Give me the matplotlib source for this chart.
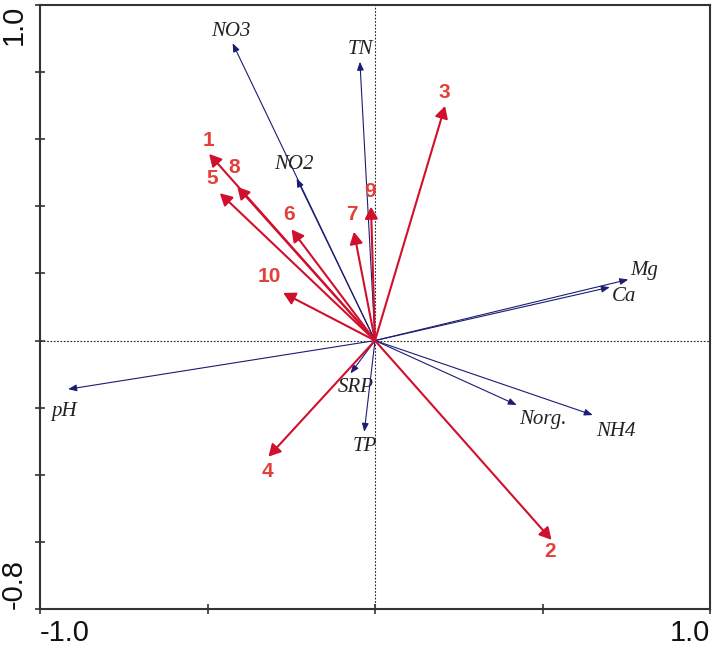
import matplotlib
matplotlib.use('Agg')
import matplotlib.pyplot as plt
import numpy as np

# environmental variables (blue arrows)
envNames = ['NO3', 'TN', 'NO2', 'Mg', 'Ca', 'pH', 'SRP', 'TP', 'Norg.', 'NH4']
envX = [-0.425, -0.045, -0.234, 0.756, 0.701, -0.916, -0.073, -0.032, 0.423, 0.650]
envY = [0.886, 0.831, 0.483, 0.182, 0.159, -0.145, -0.098, -0.272, -0.192, -0.222]

# samples (red arrows)
sampleNames = ['1', '8', '5', '6', '7', '9', '10', '3', '4', '2']
sampleX = [-0.495, -0.411, -0.463, -0.249, -0.063, -0.012, -0.274, 0.209, -0.318, 0.527]
sampleY = [0.556, 0.458, 0.439, 0.331, 0.324, 0.399, 0.142, 0.699, -0.346, -0.594]

# label offsets from arrow tip, in pixels
envOff = [(-2, 12), (0, 12), (-3, 14), (16, 9), (14, -9), (-4, -22), (5, -14), (1, -15), (26, -15), (23, -16)]
sampleOff = [(-1, 13), (-3, 19), (-8, 15), (-3, 15), (-2, 17), (-1, 15), (-14, 16), (-1, 14), (-1, -15), (-1, -12)]

blue = '#1C1C74'
red = '#D0102C'
redText = '#E2413B'

fig = plt.figure(figsize=(7.16, 6.51), dpi=100)
ax = fig.add_axes([40/716, 42/651, 670/716, 604/651])
ax.set_xlim(-1.0, 1.0)
ax.set_ylim(-0.8, 1.0)

ax.axhline(0, ls=(0, (1.5, 1.5)), lw=0.8, color='#222', zorder=1)
ax.axvline(0, ls=(0, (1.5, 1.5)), lw=0.8, color='#222', zorder=1)

for name, x, y, off in zip(envNames, envX, envY, envOff):
    ax.annotate('', xy=(x, y), xytext=(0, 0),
                arrowprops=dict(arrowstyle='-|>,head_length=0.5,head_width=0.2',
                                mutation_scale=10, color=blue, lw=0.8,
                                shrinkA=0, shrinkB=0), zorder=2)
    ax.annotate(name, xy=(x, y), xytext=off, textcoords='offset pixels',
                ha='center', va='center', fontsize=15, style='italic',
                family='Liberation Serif', color='#222')

for name, x, y, off in zip(sampleNames, sampleX, sampleY, sampleOff):
    ax.annotate('', xy=(x, y), xytext=(0, 0),
                arrowprops=dict(arrowstyle='-|>,head_length=0.55,head_width=0.3',
                                mutation_scale=13, color=red, lw=1.5,
                                shrinkA=0, shrinkB=0), zorder=3)
    ax.annotate(name, xy=(x, y), xytext=off, textcoords='offset pixels',
                ha='center', va='center', fontsize=15, fontweight='bold',
                family='Liberation Sans', color=redText)

for s in ax.spines.values():
    s.set_color('#333')
    s.set_linewidth(1.5)

ax.set_xticks([-1.0, -0.5, 0, 0.5, 1.0])
ax.set_xticklabels(['-1.0', '', '', '', '1.0'])
yt = np.round(np.arange(-0.8, 1.01, 0.2), 1)
ax.set_yticks(yt)
ax.set_yticklabels(['-0.8'] + [''] * (len(yt) - 2) + ['1.0'], rotation=90)
ax.tick_params(direction='inout', length=7, width=1.2, color='#333',
               labelsize=21, labelcolor='#111')
ax.tick_params(axis='x', pad=4)
ax.tick_params(axis='y', pad=5)
for lab in ax.get_xticklabels():
    lab.set_family('Liberation Sans')
for lab in ax.get_yticklabels():
    lab.set_family('Liberation Sans')
xl = ax.get_xticklabels()
xl[0].set_ha('left')
xl[-1].set_ha('right')
yl = ax.get_yticklabels()
yl[0].set_va('bottom')
yl[-1].set_va('top')

fig.savefig('out.png', dpi=100)
